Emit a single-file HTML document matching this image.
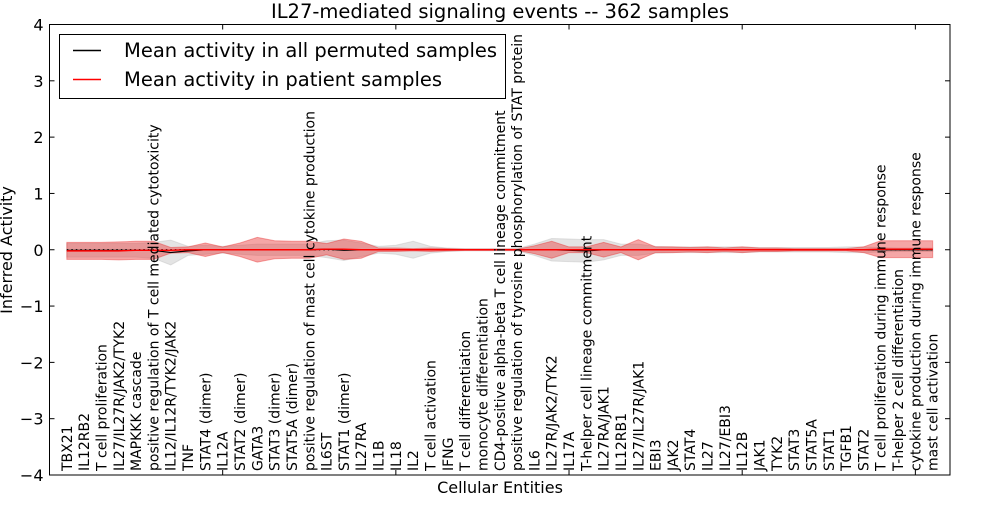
<!DOCTYPE html>
<html><head><meta charset="utf-8"><style>
body{margin:0;background:#fff;}
svg text{font-family:"DejaVu Sans","Liberation Sans",sans-serif;}
</style></head><body>
<svg id="chart" width="1000" height="500" xmlns="http://www.w3.org/2000/svg">
<rect width="1000" height="500" fill="#fff"/>
<g id="bands"></g>
<g id="lines"></g>
<g id="axes"></g>
<g id="labels"></g>
</svg>
<script>
const categories=["TBX21","IL12RB2","T cell proliferation","IL27/IL27R/JAK2/TYK2","MAPKKK cascade","positive regulation of T cell mediated cytotoxicity","IL12/IL12R/TYK2/JAK2","TNF","STAT4 (dimer)","IL12A","STAT2 (dimer)","GATA3","STAT3 (dimer)","STAT5A (dimer)","positive regulation of mast cell cytokine production","IL6ST","STAT1 (dimer)","IL27RA","IL1B","IL18","IL2","T cell activation","IFNG","T cell differentiation","monocyte differentiation","CD4-positive alpha-beta T cell lineage commitment","positive regulation of tyrosine phosphorylation of STAT protein","IL6","IL27R/JAK2/TYK2","IL17A","T-helper cell lineage commitment","IL27RA/JAK1","IL12RB1","IL27/IL27R/JAK1","EBI3","JAK2","STAT4","IL27","IL27/EBI3","IL12B","JAK1","TYK2","STAT3","STAT5A","STAT1","TGFB1","STAT2","T cell proliferation during immune response","T-helper 2 cell differentiation","cytokine production during immune response","mast cell activation"];
const patientMean=[-0.02,-0.02,-0.02,-0.02,-0.01,-0.01,-0.01,0,0,0,0,0,0,0,0,0.01,0.01,0,0,0,0,0,0,0,0,0,0,0,0,0,0,0,0,0,0,0,0,0,0,0,0,0,0,0,0,0,0,0.01,0.01,0.01,0.01];
const patientSpread=[0.15,0.15,0.15,0.16,0.16,0.16,0.05,0.05,0.12,0.05,0.12,0.22,0.16,0.15,0.15,0.1,0.18,0.15,0.03,0.03,0.02,0.03,0.02,0.01,0.01,0.01,0.01,0.07,0.15,0.05,0.05,0.13,0.05,0.18,0.05,0.05,0.04,0.05,0.03,0.05,0.03,0.03,0.02,0.02,0.02,0.02,0.05,0.15,0.15,0.15,0.15];
const permMean=[-0.01,-0.01,-0.01,-0.01,-0.01,-0.01,-0.05,-0.02,0,0,0,0,0,0,0,0.01,-0.01,0,0,0,0,0,0,0,0,0,0,0,0,-0.01,-0.02,0,0,0,0,0,0,0,0,0,0,0,0,0,0,0,0,0,0,0,0];
const permSpread=[0.12,0.12,0.12,0.12,0.12,0.14,0.22,0.08,0.08,0.06,0.08,0.1,0.1,0.1,0.1,0.15,0.18,0.12,0.06,0.08,0.15,0.06,0.03,0.02,0.02,0.02,0.02,0.1,0.2,0.2,0.2,0.18,0.1,0.1,0.06,0.05,0.05,0.05,0.05,0.05,0.04,0.04,0.04,0.04,0.04,0.05,0.05,0.04,0.03,0.03,0.03];
const yTicks=[-4,-3,-2,-1,0,1,2,3,4];
const L=49.5,R=950,T=24.5,B=475;
const xs=i=>L+(i+1)*(R-L)/52;
const ys=v=>T+(4-v)*(B-T)/8;
const NS="http://www.w3.org/2000/svg";
function mk(tag,parent,attrs){const e=document.createElementNS(NS,tag);for(const k in attrs)e.setAttribute(k,attrs[k]);parent.appendChild(e);return e;}
const bands=document.getElementById('bands'),lines=document.getElementById('lines'),axes=document.getElementById('axes'),labels=document.getElementById('labels');
function band(mean,spr,fill,op,name){
  let up=mean.map((m,i)=>xs(i)+','+ys(m+spr[i]));
  let lo=mean.map((m,i)=>xs(i)+','+ys(m-spr[i])).reverse();
  const p=mk('polygon',bands,{points:up.concat(lo).join(' '),fill:fill,'fill-opacity':op,stroke:fill,'stroke-opacity':op});
  
  
}
band(permMean,permSpread,'#bbbbbb',0.4,'permuted-band');
band(patientMean,patientSpread,'#e8393a',0.45,'patient-band');
let z=mk('line',lines,{x1:xs(0),x2:xs(50),y1:ys(0),y2:ys(0),stroke:'#000','stroke-dasharray':'1.5,3','stroke-width':1.2});


let pl=mk('polyline',lines,{points:permMean.map((m,i)=>xs(i)+','+ys(m)).join(' '),fill:'none',stroke:'#000','stroke-width':1.2});


let rl=mk('polyline',lines,{points:patientMean.map((m,i)=>xs(i)+','+ys(m)).join(' '),fill:'none',stroke:'#f00','stroke-width':1.4});


let fr=mk('rect',axes,{x:L,y:T,width:R-L,height:B-T,fill:'none',stroke:'#000'});


yTicks.forEach(v=>{
  mk('line',axes,{x1:L,x2:L+5,y1:ys(v),y2:ys(v),stroke:'#000'});
  mk('line',axes,{x1:R-5,x2:R,y1:ys(v),y2:ys(v),stroke:'#000'});
  const t=mk('text',axes,{x:L-6,y:ys(v)+6,'text-anchor':'end','font-size':16});
  t.textContent=(v<0?'\u2212':'')+Math.abs(v);
  
  
});
for(let k=0;k<=5;k++){const x=L+k*10*(R-L)/52;mk('line',axes,{x1:x,x2:x,y1:T,y2:T+5,stroke:'#000'});mk('line',axes,{x1:x,x2:x,y1:B-5,y2:B,stroke:'#000'});}
categories.forEach((c,i)=>{
  const x=xs(i)+5;
  const t=mk('text',labels,{x:0,y:0,transform:`translate(${x},471) rotate(-90)`,'font-size':14});
  t.textContent=c;
  
  
});
function txt(parent,attrs,s,name){const t=mk('text',parent,attrs);t.textContent=s;return t;}
txt(axes,{x:500,y:18,'text-anchor':'middle','font-size':19.5},'IL27-mediated signaling events -- 362 samples','chart-title');
txt(axes,{x:500,y:493,'text-anchor':'middle','font-size':16},'Cellular Entities','x-axis-title');
txt(axes,{x:0,y:0,transform:'translate(12,250) rotate(-90)','text-anchor':'middle','font-size':16},'Inferred Activity','y-axis-title');
const lg=mk('g',axes,{});


mk('rect',lg,{x:59.5,y:34.5,width:446,height:64,fill:'#fff',stroke:'#000'});
mk('line',lg,{x1:73,x2:101,y1:50.5,y2:50.5,stroke:'#000','stroke-width':1.5});
mk('line',lg,{x1:73,x2:101,y1:79.5,y2:79.5,stroke:'#f00','stroke-width':1.5});
txt(lg,{x:124,y:57,'font-size':19.5},'Mean activity in all permuted samples','legend-entry-permuted');
txt(lg,{x:124,y:86,'font-size':19.5},'Mean activity in patient samples','legend-entry-patient');
</script>
</body></html>
